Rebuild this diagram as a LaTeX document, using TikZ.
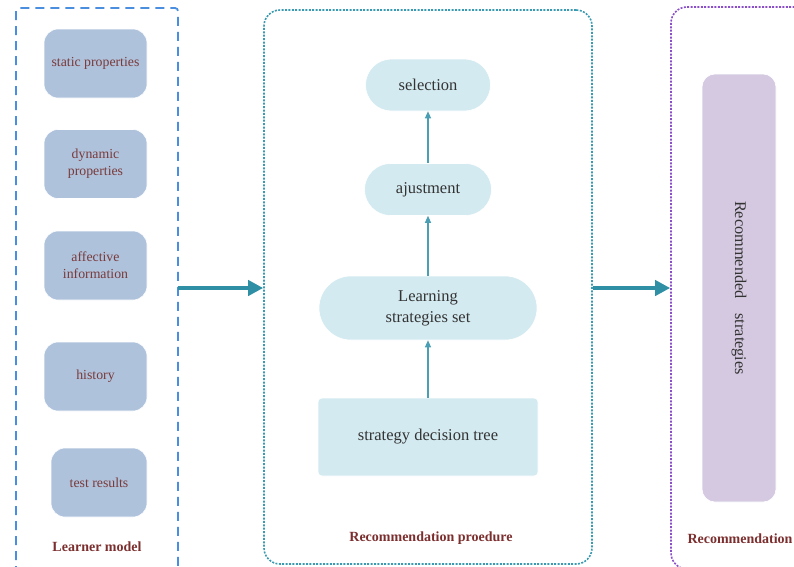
\documentclass[tikz,border=0pt]{standalone}
\usepackage{fontspec}
\setmainfont{Liberation Serif}
\usetikzlibrary{arrows.meta}

\definecolor{lmframe}{HTML}{4A8EE0}
\definecolor{procframe}{HTML}{3A9AB2}
\definecolor{recframe}{HTML}{8A4FC8}
\definecolor{lmfill}{HTML}{AEC2DC}
\definecolor{procfill}{HTML}{D3EAF0}
\definecolor{recfill}{HTML}{D4C9E0}
\definecolor{redtext}{HTML}{7A3A3A}
\definecolor{labeltext}{HTML}{7B2E2E}
\definecolor{darktext}{HTML}{333333}
\definecolor{flow}{HTML}{2E8FA5}
\definecolor{thinflow}{HTML}{4A9FB5}

\tikzset{
  lmbox/.style={fill=lmfill, draw=white, line width=0.6pt, rounded corners=14pt,
    minimum height=69pt, align=center, text=redtext, font=\fontsize{13.8}{17}\selectfont,
    inner sep=2pt},
  pill/.style={fill=procfill, draw=white, line width=0.6pt, align=center, text=darktext,
    font=\fontsize{16.5}{21}\selectfont, inner sep=2pt},
  treebox/.style={fill=procfill, draw=white, line width=0.6pt, rounded corners=4pt,
    align=center, text=darktext, font=\fontsize{16.5}{21}\selectfont, inner sep=2pt},
  framelabel/.style={text=labeltext, font=\fontsize{14}{16}\selectfont\bfseries},
  bigflow/.style={draw=flow, line width=4pt, -{Triangle[length=15pt,width=15pt]}},
  smallflow/.style={draw=thinflow, line width=1.1pt, -{Triangle[length=7pt,width=6pt]}}
}

\begin{document}
\begin{tikzpicture}[x=1pt,y=-1pt]
\useasboundingbox (0,0) rectangle (794,566);
\clip (0,0) rectangle (794,566);

% Learner model frame, open at the bottom
\draw[lmframe, line width=1.8pt, dash pattern=on 9pt off 6pt, rounded corners=3pt]
  (16,575) -- (16,8) -- (178,8) -- (178,575);
\coordinate (lmE) at (178,288);

% Recommendation procedure frame
\node[draw=procframe, line width=1.6pt, dash pattern=on 2pt off 1.4pt, rounded corners=16pt,
  minimum width=328pt, minimum height=554pt, inner sep=0pt] (proc) at (428,287) {};

% Recommendation frame, running off the right edge
\node[draw=recframe, line width=1.6pt, dash pattern=on 2pt off 1.4pt, rounded corners=16pt,
  minimum width=160pt, minimum height=562pt, inner sep=0pt] (rec) at (751,288) {};

% Learner model attributes
\node[lmbox, minimum width=103pt] (stat) at (95.5,63.5) {static properties};
\node[lmbox, minimum width=103pt] (dyn) at (95.5,164) {dynamic\\properties};
\node[lmbox, minimum width=103pt] (aff) at (95.5,265.5) {affective\\information};
\node[lmbox, minimum width=103pt] (hist) at (95.5,376.5) {history};
\node[lmbox, minimum width=96pt] (test) at (99,482.5) {test results};
\node[framelabel] (lmlabel) at (97,547) {Learner model};

% Recommendation procedure steps
\node[pill, minimum width=125pt, minimum height=52pt, rounded corners=26pt] (sel) at (428,85) {selection};
\node[pill, minimum width=127pt, minimum height=52pt, rounded corners=26pt] (adj) at (428,189.5) {ajustment};
\node[pill, minimum width=218pt, minimum height=64pt, rounded corners=32pt] (set) at (428,308) {Learning\\strategies set};
\node[treebox, minimum width=220pt, minimum height=78pt] (tree) at (428,437) {strategy decision tree};
\node[framelabel] (proclabel) at (431,538) {Recommendation proedure};

% Recommended strategies
\node[fill=recfill, draw=white, line width=0.6pt, rounded corners=13pt, minimum width=74pt,
  minimum height=428pt, inner sep=0pt] (recbox) at (739,288) {};
\node[rotate=-90, text=darktext, font=\fontsize{16.3}{20}\selectfont] (rectext) at (739,288)
  {Recommended\hspace{0.9em}strategies};
\node[framelabel] (reclabel) at (740,539) {Recommendation};

% Connectors
\draw[bigflow] (lmE) -- (lmE -| proc.west);
\draw[bigflow] (lmE -| proc.east) -- (lmE -| rec.west);
\draw[smallflow] (tree.north) -- (set.south);
\draw[smallflow] (set.north) -- (adj.south);
\draw[smallflow] (adj.north) -- (sel.south);
\end{tikzpicture}
\end{document}
